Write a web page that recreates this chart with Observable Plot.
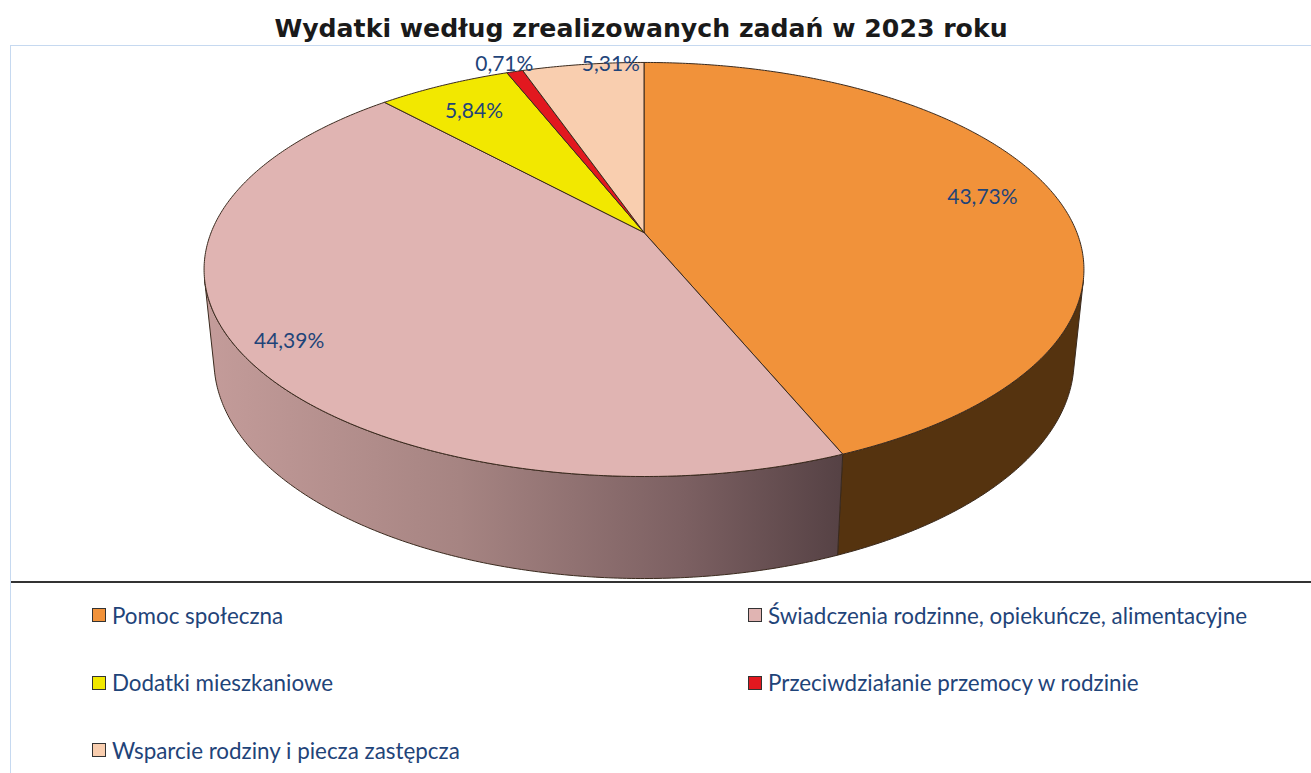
<!DOCTYPE html>
<html><head><meta charset="utf-8">
<script src="https://cdn.jsdelivr.net/npm/d3@7"></script>
<script src="https://cdn.jsdelivr.net/npm/@observablehq/plot@0.6"></script>
<style>
body{margin:0;background:#fff;width:1311px;height:773px;overflow:hidden;position:relative;font-family:Lato,"Noto Sans",sans-serif}
#title{position:absolute;left:0;top:14px;width:1282px;text-align:center;font-family:"DejaVu Sans",sans-serif;font-weight:bold;font-size:25.2px;line-height:30px;color:#1a1a1a;white-space:nowrap}
#frame{position:absolute;left:10px;top:45px;width:1301px;height:728px;border-left:1px solid #c6d9f0;border-top:1px solid #c6d9f0;box-sizing:border-box}
#chart{position:absolute;left:11px;top:46px}
#chart svg{display:block;border-bottom:2px solid #333;overflow:visible}
#legend{position:absolute;left:92px;top:603px;display:grid;grid-template-columns:656px auto;grid-auto-rows:67.5px;font-size:22.4px;color:#1f4479}
.item{display:flex;align-items:center;height:24px;white-space:nowrap}
.sw{width:12px;height:12px;border:1.5px solid #333;margin-right:6px;flex:none}
</style></head>
<body>
<div id="title">Wydatki według zrealizowanych zadań w 2023 roku</div>
<div id="frame"></div>
<div id="chart"></div>
<div id="legend"></div>
<script>
// ---- data ----
const categories = [
  "Pomoc społeczna",
  "Świadczenia rodzinne, opiekuńcze, alimentacyjne",
  "Dodatki mieszkaniowe",
  "Przeciwdziałanie przemocy w rodzinie",
  "Wsparcie rodziny i piecza zastępcza"
];
const shares = [43.73, 44.39, 5.84, 0.71, 5.31];

// ---- styles ----
const topColors = ["#f1923a", "#e0b4b2", "#f2e800", "#e2181f", "#f9ceaf"];
const wallColors = ["#55330f", "url(#pinkWall)", "#8a8200", "#7a0d10", "#a88a74"];
const labelRadius = [0.82, 0.89, 0.83, 1.05, 1.0];
const labelDx = [0, 0, 0, -5, 28];
const labelDy = [-4, 4, 4, 0, 0];

// ---- 3D perspective projection of the pie ----
const W = 1300, H = 535, CX = 632.5, CY = 186;
const F = 2147, DIST = 4.96, SIN = 0.463, COS = 0.886, THICK = 0.2386;
function proj(deg, r, z) {
  const a = deg * Math.PI / 180;
  const X = r * Math.sin(a), Y = r * Math.cos(a);
  const depth = DIST + Y * COS - z * SIN;
  const up = Y * SIN + z * COS;
  return [F * X / depth, -F * up / depth];
}
const total = d3.sum(shares);
let acc = 0;
const slices = categories.map((name, i) => {
  const a0 = acc / total * 360; acc += shares[i];
  const a1 = acc / total * 360;
  return {name, i, a0, a1};
});
function arc(a0, a1, z) {
  const n = Math.max(2, Math.ceil((a1 - a0) / 0.5));
  return d3.range(n + 1).map(k => proj(a0 + (a1 - a0) * k / n, 1, z));
}
const SIL = Math.acos(-1 / (DIST * COS)) * 180 / Math.PI;

const wallPts = [];
slices.forEach(s => {
  const b0 = Math.max(s.a0, SIL), b1 = Math.min(s.a1, 360 - SIL);
  if (b1 <= b0) return;
  const pts = [...arc(b0, b1, 0), ...arc(b0, b1, -THICK).reverse()];
  pts.push(pts[0]);
  pts.forEach(p => wallPts.push({name: s.name, x: p[0], y: p[1], fill: wallColors[s.i]}));
});
const topPts = [];
slices.forEach(s => {
  const pts = [[0, 0], ...arc(s.a0, s.a1, 0), [0, 0]];
  pts.forEach(p => topPts.push({name: s.name, x: p[0], y: p[1], fill: topColors[s.i]}));
});
const labelPts = slices.map(s => {
  const p = proj((s.a0 + s.a1) / 2, labelRadius[s.i], 0);
  return {x: p[0], y: p[1], dx: labelDx[s.i], dy: labelDy[s.i],
          label: shares[s.i].toFixed(2).replace(".", ",") + "%"};
});

const chart = Plot.plot({
  width: W, height: H, margin: 0,
  x: {domain: [-CX, W - CX], range: [0, W], axis: null},
  y: {domain: [-CY, H - CY], range: [0, H], axis: null},
  color: {type: "identity"},
  marks: [
    Plot.line(wallPts, {x: "x", y: "y", z: "name", fill: "fill", stroke: "#3a2a1e", strokeWidth: 1, strokeLinejoin: "round"}),
    Plot.line(topPts, {x: "x", y: "y", z: "name", fill: "fill", stroke: "#3a2a1e", strokeWidth: 1, strokeLinejoin: "round"}),
    Plot.text(labelPts, {x: d => d.x + d.dx, y: d => d.y + d.dy, text: "label", fill: "#1f4479", fontSize: 21, fontFamily: "Lato", stroke: null})
  ]
});
const sx = chart.scale("x");
const g0 = sx.apply(-440), g1 = sx.apply(200);
d3.select(chart).insert("defs", ":first-child").html(
  `<linearGradient id="pinkWall" gradientUnits="userSpaceOnUse" x1="${g0}" y1="0" x2="${g1}" y2="0">
     <stop offset="0" stop-color="#c49c9a"/>
     <stop offset="0.4" stop-color="#a68482"/>
     <stop offset="0.75" stop-color="#7c6062"/>
     <stop offset="1" stop-color="#554144"/>
   </linearGradient>`);
document.getElementById("chart").appendChild(chart);

// legend
const order = [0, 1, 2, 3, 4];
const leg = d3.select("#legend");
order.forEach(i => {
  const it = leg.append("div").attr("class", "item");
  it.append("div").attr("class", "sw").style("background", topColors[i]);
  it.append("span").text(categories[i]);
});
</script>
</body></html>
